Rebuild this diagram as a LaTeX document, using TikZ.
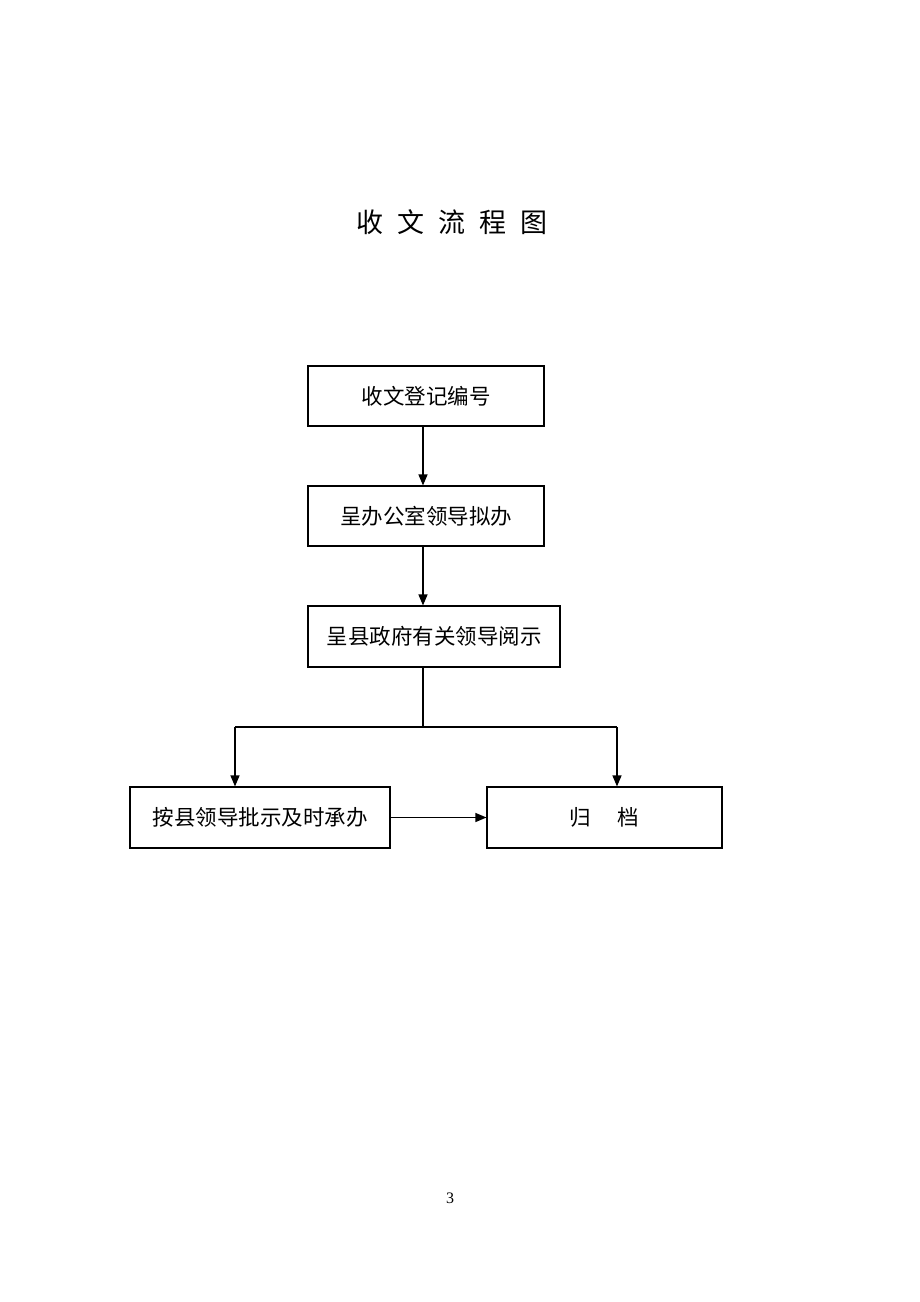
\documentclass[tikz,border=0pt]{standalone}
\usepackage{fontspec}
\setmainfont{Liberation Serif}
\newfontfamily\cjk{Noto Sans CJK SC}
\usetikzlibrary{arrows.meta}
\begin{document}
\begin{tikzpicture}[x=1pt,y=-1pt,
  box/.style={draw,line width=1.1pt,inner sep=0pt,font=\cjk\fontsize{21.5}{21.5}\selectfont},
  conn/.style={line width=1.2pt},
  arr/.style={conn,-{Triangle[width=9pt,length=11pt]}}]
\useasboundingbox (0,0) rectangle (920,1302);
\node[font=\cjk\fontsize{27}{27}\selectfont] (title) at (452,222) {收\hspace{14pt}文\hspace{14pt}流\hspace{14pt}程\hspace{14pt}图};
\node[box,minimum width=236pt,minimum height=60pt] (b1) at (426,396) {收文登记编号};
\node[box,minimum width=236pt,minimum height=60pt] (b2) at (426,516) {呈办公室领导拟办};
\node[box,minimum width=252pt,minimum height=61pt] (b3) at (434,636.5) {呈县政府有关领导阅示};
\node[box,minimum width=260pt,minimum height=61pt] (b4) at (260,817.5) {按县领导批示及时承办};
\node[box,minimum width=235pt,minimum height=61pt] (b5) at (604.5,817.5) {归\hspace{27pt}档};
\coordinate (v) at (423,0);
\coordinate (split) at (423,727);
\coordinate (l) at (235,727);
\coordinate (r) at (617,727);
\draw[arr] (b1.south -| v) -- (b2.north -| v);
\draw[arr] (b2.south -| v) -- (b3.north -| v);
\draw[conn] (b3.south -| v) -- (split);
\draw[conn] (l) -- (r);
\draw[arr] (l) -- (b4.north -| l);
\draw[arr] (r) -- (b5.north -| r);
\draw[arr] (b4.east) -- (b5.west);
\node[font=\fontsize{16}{16}\selectfont] (page) at (450,1198) {3};
\end{tikzpicture}
\end{document}
